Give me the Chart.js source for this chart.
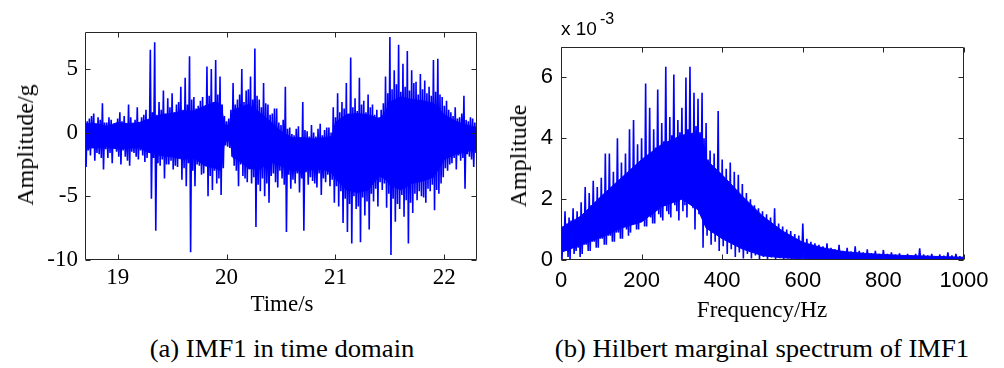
<!DOCTYPE html>
<html lang="en">

<head>
    <meta charset="UTF-8">
    <title>IMF1</title>
    <script src="https://cdn.jsdelivr.net/npm/chart.js@4"></script>
    <style>
        body {
            margin: 0;
            background: #fff;
        }

        .page {
            position: relative;
            width: 1004px;
            height: 368px;
            overflow: hidden;
        }

        canvas {
            position: absolute;
            top: 0;
        }

        .lbl {
            position: absolute;
            white-space: nowrap;
            color: #000;
            font-family: 'Liberation Serif', 'Times New Roman', serif;
            font-size: 23px;
            line-height: 1;
            transform: translate(-50%, -50%);
        }

        .lbl.vert {
            font-size: 24px;
            transform: translate(-50%, -50%) rotate(-90deg);
        }

        .lbl.cap {
            font-size: 25px;
            transform: translate(-50%, -50%) scaleX(1.065);
        }

        .mult {
            position: absolute;
            font-family: 'Liberation Sans', Arial, sans-serif;
            line-height: 1;
            color: #000;
        }
    </style>
</head>

<body>
    <div class="page">
        <canvas id="timeChart" width="500" height="300" style="left:0"></canvas>
        <canvas id="specChart" width="504" height="300" style="left:500px"></canvas>

        <div class="lbl vert" style="left:25px; top:145px">Amplitude/g</div>
        <div class="lbl" style="left:282px; top:303px">Time/s</div>
        <div class="lbl cap" style="left:282px; top:348px">(a) IMF1 in time domain</div>

        <div class="lbl vert" style="left:518px; top:156px">Amplitude</div>
        <div class="lbl" style="left:762px; top:309px">Frequency/Hz</div>
        <div class="lbl cap" style="left:762px; top:348px">(b) Hilbert marginal spectrum of IMF1</div>

        <span class="mult" style="left:561px; top:19px; font-size:19px">x 10</span>
        <span class="mult" style="left:600px; top:11px; font-size:16px">-3</span>
    </div>

    <script>
        // ---- (a) IMF1 in time domain ----
        // one value every 0.01 s from 18.70 s, crest / trough alternately
        const timeStart = 18.70;
        const timeStep = 0.01;
        const imfSignal = [
            1.4, -2.7, 0.9, -1.4, 1.1, -1.8, 1.3, -1.2, 1.5, -2.2, 0.7, -1.6, 1.2, -1.7, 1.0, -2.0, 2.3, -2.9, 0.8, -1.3,
            0.8, -2.0, 1.2, -1.6, 1.0, -2.4, 0.6, -1.2, 0.6, -1.5, 1.1, -1.9, 1.6, -2.5, 0.9, -1.4, 1.3, -1.9, 0.7, -2.2,
            2.2, -2.6, 1.2, -1.5, 0.7, -1.6, 1.0, -1.9, 2.0, -2.1, 0.8, -1.4, 1.2, -1.8, 1.4, -2.3, 1.8, -2.0, 1.0, -1.6,
            6.5, -5.2, 1.6, -2.0, 7.1, -7.7, 1.4, -2.4, 2.4, -2.6, 1.8, -2.1, 3.3, -3.6, 1.5, -2.5, 2.7, -2.5, 2.0, -2.2,
            3.1, -2.9, 1.6, -2.6, 2.2, -2.7, 2.4, -2.0, 3.6, -3.7, 1.8, -2.8, 4.3, -4.2, 2.2, -2.4, 6.0, -9.4, 2.6, -3.0,
            2.8, -4.2, 1.9, -2.5, 2.1, -2.6, 2.5, -3.3, 2.8, -3.2, 2.0, -2.6, 5.2, -5.0, 2.9, -3.4, 5.0, -4.5, 2.4, -3.0,
            5.7, -4.0, 3.0, -3.6, 4.4, -4.9, 2.2, -2.8, 1.3, -1.0, 0.9, -1.1, 1.1, -1.2, 1.8, -1.9, 3.9, -2.6, 2.2, -3.0,
            2.6, -4.2, 3.0, -2.5, 5.0, -3.4, 2.4, -3.6, 3.3, -3.9, 3.4, -2.9, 4.4, -4.0, 2.6, -3.5, 6.6, -7.4, 2.9, -4.1,
            2.6, -4.6, 2.0, -3.6, 3.9, -5.0, 2.3, -4.0, 2.2, -5.5, 1.4, -3.4, 1.5, -3.2, 1.9, -3.9, 1.9, -4.3, 0.8, -3.0,
            0.6, -3.6, 1.0, -4.1, 3.6, -7.8, 0.3, -3.3, 0.4, -4.4, -0.1, -3.7, -0.2, -4.0, 0.3, -3.2, 0.5, -4.7, -0.4, -3.6,
            2.4, -7.7, 0.2, -3.1, 0.1, -4.1, -0.3, -3.5, 0.6, -3.8, 0.0, -4.0, -0.3, -4.3, 0.3, -3.2, 0.7, -4.9, -0.2, -3.6,
            0.2, -3.9, 0.4, -3.3, 0.4, -4.2, 0.0, -3.7, 2.0, -5.5, 1.2, -4.2, 3.1, -5.8, 1.6, -4.6, 2.4, -7.1, 1.9, -5.2,
            3.9, -7.8, 1.5, -5.6, 5.9, -8.7, 2.0, -5.0, 2.7, -6.0, 1.7, -5.8, 4.3, -8.6, 2.2, -5.1, 2.5, -6.5, 1.6, -5.4,
            3.0, -7.6, 2.0, -4.8, 2.2, -5.4, 1.4, -4.4, 1.8, -5.8, 1.2, -3.9, 1.8, -4.5, 2.3, -4.0, 4.4, -5.9, 3.1, -4.8,
            7.5, -9.6, 3.4, -5.2, 4.9, -7.0, 3.8, -5.6, 6.9, -6.0, 3.2, -4.9, 5.4, -6.6, 3.6, -5.3, 6.4, -8.7, 3.3, -5.5,
            4.9, -6.3, 3.9, -4.8, 4.0, -5.3, 3.0, -4.6, 4.6, -5.0, 3.4, -5.1, 4.1, -5.5, 3.1, -4.4, 3.6, -4.6, 2.9, -4.1,
            5.7, -6.1, 3.2, -4.5, 5.8, -4.8, 3.0, -4.0, 2.8, -3.5, 2.1, -2.8, 2.5, -3.0, 1.8, -2.5, 1.6, -2.4, 1.3, -2.0,
            2.0, -2.9, 1.1, -1.8, 1.2, -2.2, 1.5, -2.0, 2.9, -4.4, 1.0, -1.7, 0.9, -1.9, 1.2, -2.1, 1.1, -2.7, 0.8, -1.6,
            0.6
        ];
        // solid middle of the trace (where the oscillation is too dense to resolve)
        const imfCoreTime = [18.7, 18.8, 18.9, 19.0, 19.1, 19.2, 19.3, 19.4, 19.5, 19.6, 19.7, 19.8, 19.9, 19.95, 19.98, 20.03, 20.06, 20.1, 20.2, 20.3, 20.4,
            20.5, 20.6, 20.7, 20.8, 20.9, 20.97, 21.0, 21.1, 21.2, 21.3, 21.4, 21.45, 21.5, 21.6, 21.7, 21.8, 21.9, 22.0, 22.1, 22.2, 22.3];
        const imfCoreHigh = [0.7, 0.7, 0.5, 0.8, 0.7, 0.8, 1.1, 1.4, 1.5, 1.7, 1.7, 2.1, 2.4, 2.2, 0.6, 0.5, 1.8, 1.9, 2.2, 1.6, 0.9,
            0.1, -0.4, -0.4, -0.5, -0.4, -0.3, 0.8, 1.4, 1.5, 1.4, 1.1, 1.5, 2.4, 2.8, 2.6, 2.5, 2.3, 1.4, 0.9, 0.6, 0.4];
        const imfCoreLow = [-1.2, -1.2, -1.1, -1.3, -1.2, -1.2, -1.6, -1.8, -1.9, -2.1, -2.0, -2.6, -2.8, -3.0, -0.7, -0.6, -2.0, -2.1, -2.8, -2.9, -2.3,
            -2.6, -3.0, -3.0, -2.9, -2.9, -3.2, -3.6, -4.5, -4.7, -4.5, -3.4, -3.6, -4.1, -4.5, -4.0, -3.8, -3.5, -2.1, -1.7, -1.5, -1.3];
        const timeTicks = [19, 20, 21, 22];
        const ampTicks = [-10, -5, 0, 5];

        // ---- (b) Hilbert marginal spectrum (x 10^-3) ----
        // one value every 2.5 Hz
        const freqStart = 0;
        const freqStep = 2.5;
        const spectrum = [
            1.5, 0.0, 1.1, 0.4, 1.6, 0.3, 1.2, 0.1, 1.4, 0.0, 1.3, 0.5, 1.7, 0.2, 1.1, 0.3, 1.6, 0.4, 1.4, 0.1,
            1.9, 0.2, 1.3, 0.5, 2.4, 0.5, 1.6, 0.3, 2.2, 0.3, 1.8, 0.6, 2.6, 0.6, 1.7, 0.4, 2.4, 0.4, 2.0, 0.7,
            2.7, 0.7, 1.9, 0.5, 3.5, 0.5, 2.2, 0.8, 3.5, 0.8, 2.0, 0.6, 2.9, 0.6, 2.4, 0.9, 4.0, 0.9, 2.3, 0.7,
            3.2, 0.7, 2.7, 1.1, 3.5, 1.0, 2.5, 0.8, 4.3, 0.9, 2.9, 1.2, 4.6, 1.2, 2.8, 1.0, 3.8, 1.0, 3.2, 1.4,
            4.0, 1.3, 3.0, 1.1, 5.8, 1.1, 3.4, 1.5, 5.0, 1.4, 3.2, 1.2, 4.3, 1.2, 3.7, 1.7, 5.6, 1.5, 3.5, 1.4,
            4.5, 1.3, 3.9, 1.8, 6.35, 1.6, 3.7, 1.5, 4.7, 1.4, 4.1, 2.0, 6.1, 1.8, 3.9, 1.6, 4.6, 1.3, 4.2, 2.1,
            5.0, 1.6, 4.0, 1.8, 6.0, 1.4, 4.3, 2.2, 6.35, 1.9, 4.1, 1.7, 5.5, 1.0, 4.4, 2.0, 5.3, 1.5, 4.2, 1.8,
            5.5, 0.4, 4.0, 1.3, 4.5, 0.8, 3.3, 1.1, 3.6, 0.5, 3.0, 0.9, 3.5, 0.6, 2.9, 1.0, 4.9, 0.3, 2.7, 0.8,
            3.3, 0.45, 2.6, 0.9, 3.0, 0.2, 2.4, 0.7, 3.2, 0.35, 2.2, 0.6, 2.9, 0.1, 2.1, 0.7, 2.8, 0.25, 1.9, 0.5,
            2.5, 0.05, 1.8, 0.6, 2.2, 0.2, 1.6, 0.4, 2.0, 0.05, 1.5, 0.5, 1.8, 0.15, 1.3, 0.3, 1.7, 0.0, 1.2, 0.4,
            1.6, 0.1, 1.1, 0.3, 1.5, 0.0, 1.0, 0.2, 1.4, 0.08, 0.9, 0.3, 1.7, 0.0, 0.85, 0.2, 1.2, 0.06, 0.8, 0.25,
            1.1, 0.0, 0.75, 0.15, 1.0, 0.05, 0.7, 0.2, 0.95, 0.0, 0.6, 0.12, 0.85, 0.04, 0.55, 0.15, 0.8, 0.0, 0.5, 0.1,
            1.2, 0.03, 0.45, 0.12, 0.7, 0.0, 0.42, 0.08, 0.6, 0.03, 0.38, 0.1, 0.55, 0.0, 0.35, 0.06, 0.5, 0.02, 0.3, 0.08,
            0.45, 0.0, 0.28, 0.05, 0.55, 0.02, 0.25, 0.06, 0.4, 0.0, 0.24, 0.04, 0.35, 0.01, 0.22, 0.05, 0.5, 0.0, 0.2, 0.03,
            0.3, 0.01, 0.2, 0.04, 0.4, 0.0, 0.18, 0.03, 0.28, 0.0, 0.17, 0.04, 0.45, 0.0, 0.16, 0.02, 0.3, 0.0, 0.15, 0.03,
            0.25, 0.0, 0.14, 0.02, 0.35, 0.0, 0.14, 0.03, 0.22, 0.0, 0.13, 0.02, 0.3, 0.0, 0.12, 0.02, 0.2, 0.0, 0.12, 0.03,
            0.33, 0.0, 0.11, 0.02, 0.2, 0.0, 0.11, 0.02, 0.25, 0.0, 0.1, 0.02, 0.18, 0.0, 0.1, 0.01, 0.22, 0.0, 0.09, 0.02,
            0.16, 0.0, 0.09, 0.01, 0.2, 0.0, 0.08, 0.02, 0.15, 0.0, 0.08, 0.01, 0.2, 0.0, 0.08, 0.01, 0.38, 0.0, 0.07, 0.02,
            0.18, 0.0, 0.07, 0.01, 0.15, 0.0, 0.07, 0.01, 0.2, 0.0, 0.06, 0.01, 0.12, 0.0, 0.06, 0.01, 0.18, 0.0, 0.06, 0.01,
            0.14, 0.0, 0.05, 0.01, 0.25, 0.0, 0.05, 0.01, 0.15, 0.0, 0.05, 0.01, 0.2, 0.0, 0.05, 0.01, 0.12, 0.0, 0.05, 0.01,
            0.15
        ];
        const specCoreFreq = [0, 50, 100, 150, 200, 250, 300, 340, 360, 400, 450, 500, 550, 600, 650, 700, 750, 800, 850, 900, 950, 1000];
        const specCoreHigh = [1.05, 1.45, 2.1, 2.7, 3.3, 3.8, 4.1, 4.2, 3.3, 2.8, 2.1, 1.45, 0.95, 0.58, 0.4, 0.28, 0.22, 0.18, 0.15, 0.13, 0.11, 0.09];
        const specCoreLow = [0.25, 0.5, 0.75, 1.05, 1.25, 1.75, 2.0, 1.65, 1.05, 0.7, 0.36, 0.14, 0.07, 0.04, 0.02, 0.01, 0, 0, 0, 0, 0, 0];
        const freqTicks = [0, 200, 400, 600, 800, 1000];
        const specTicks = [0, 2, 4, 6];

        const BLUE = '#0000ff';

        function pairs(xs, ys) {
            return ys.map((y, i) => ({ x: xs[i], y: y }));
        }

        function sampled(x0, dx, ys) {
            return ys.map((y, i) => ({ x: +(x0 + i * dx).toFixed(4), y: y }));
        }

        // matlab style box with inward ticks on all four sides
        const matlabBox = {
            id: 'matlabBox',
            afterDatasetsDraw(chart) {
                const ctx = chart.ctx;
                const a = chart.chartArea;
                const sx = chart.scales.x, sy = chart.scales.y;
                const L = Math.round(a.left) + 0.5, R = Math.round(a.right) - 0.5;
                const T = Math.round(a.top) + 0.5, B = Math.round(a.bottom) - 0.5;
                ctx.save();
                ctx.strokeStyle = '#262626';
                ctx.lineWidth = 1;
                ctx.beginPath();
                ctx.rect(L, T, R - L, B - T);
                sx.ticks.forEach(t => {
                    const px = Math.round(sx.getPixelForValue(t.value)) + 0.5;
                    ctx.moveTo(px, B); ctx.lineTo(px, B - 5);
                    ctx.moveTo(px, T); ctx.lineTo(px, T + 5);
                });
                sy.ticks.forEach(t => {
                    const py = Math.round(sy.getPixelForValue(t.value)) + 0.5;
                    ctx.moveTo(L, py); ctx.lineTo(L + 5, py);
                    ctx.moveTo(R, py); ctx.lineTo(R - 5, py);
                });
                ctx.stroke();
                ctx.restore();
            }
        };

        function makeChart(id, cfg) {
            return new Chart(document.getElementById(id), {
                type: 'line',
                data: {
                    datasets: [
                        { data: cfg.coreHigh, borderColor: BLUE, borderWidth: 1, fill: false },
                        { data: cfg.coreLow, borderColor: BLUE, borderWidth: 1, backgroundColor: BLUE, fill: '-1' },
                        { data: cfg.trace, borderColor: BLUE, borderWidth: cfg.lineWidth, fill: false }
                    ]
                },
                options: {
                    responsive: false,
                    animation: false,
                    events: [],
                    layout: { padding: cfg.padding },
                    elements: {
                        point: { radius: 0 },
                        line: { tension: 0, borderJoinStyle: 'bevel' }
                    },
                    plugins: { legend: { display: false }, tooltip: { enabled: false } },
                    scales: {
                        x: {
                            type: 'linear',
                            min: cfg.xMin,
                            max: cfg.xMax,
                            grid: { display: false, drawTicks: false },
                            border: { display: false },
                            afterBuildTicks: s => { s.ticks = cfg.xTicks.map(v => ({ value: v })); },
                            afterFit: s => { s.height = 40; },
                            ticks: {
                                color: '#000',
                                padding: cfg.xPad,
                                maxRotation: 0,
                                autoSkip: false,
                                font: cfg.font,
                                callback: v => String(v)
                            }
                        },
                        y: {
                            type: 'linear',
                            min: cfg.yMin,
                            max: cfg.yMax,
                            grid: { display: false, drawTicks: false },
                            border: { display: false },
                            afterBuildTicks: s => { s.ticks = cfg.yTicks.map(v => ({ value: v })); },
                            afterFit: s => { s.width = cfg.yWidth; },
                            ticks: {
                                color: '#000',
                                padding: cfg.yPad,
                                font: cfg.font,
                                callback: v => String(v)
                            }
                        }
                    }
                },
                plugins: [matlabBox]
            });
        }

        makeChart('timeChart', {
            trace: sampled(timeStart, timeStep, imfSignal),
            coreHigh: pairs(imfCoreTime, imfCoreHigh),
            coreLow: pairs(imfCoreTime, imfCoreLow),
            xMin: 18.7, xMax: 22.3, xTicks: timeTicks,
            yMin: -10, yMax: 7.9, yTicks: ampTicks,
            padding: { top: 32, right: 23, left: 0, bottom: 0 },
            yWidth: 85, xPad: 4, yPad: 7, lineWidth: 1.6,
            font: { family: "'Liberation Serif', 'Times New Roman', serif", size: 23 }
        });

        makeChart('specChart', {
            trace: sampled(freqStart, freqStep, spectrum),
            coreHigh: pairs(specCoreFreq, specCoreHigh),
            coreLow: pairs(specCoreFreq, specCoreLow),
            xMin: 0, xMax: 1000, xTicks: freqTicks,
            yMin: 0, yMax: 7, yTicks: specTicks,
            padding: { top: 47, right: 40, left: 0, bottom: 0 },
            yWidth: 61, xPad: 8, yPad: 8, lineWidth: 1.6,
            font: { family: "'Liberation Sans', Arial, sans-serif", size: 22 }
        });
    </script>
</body>

</html>
